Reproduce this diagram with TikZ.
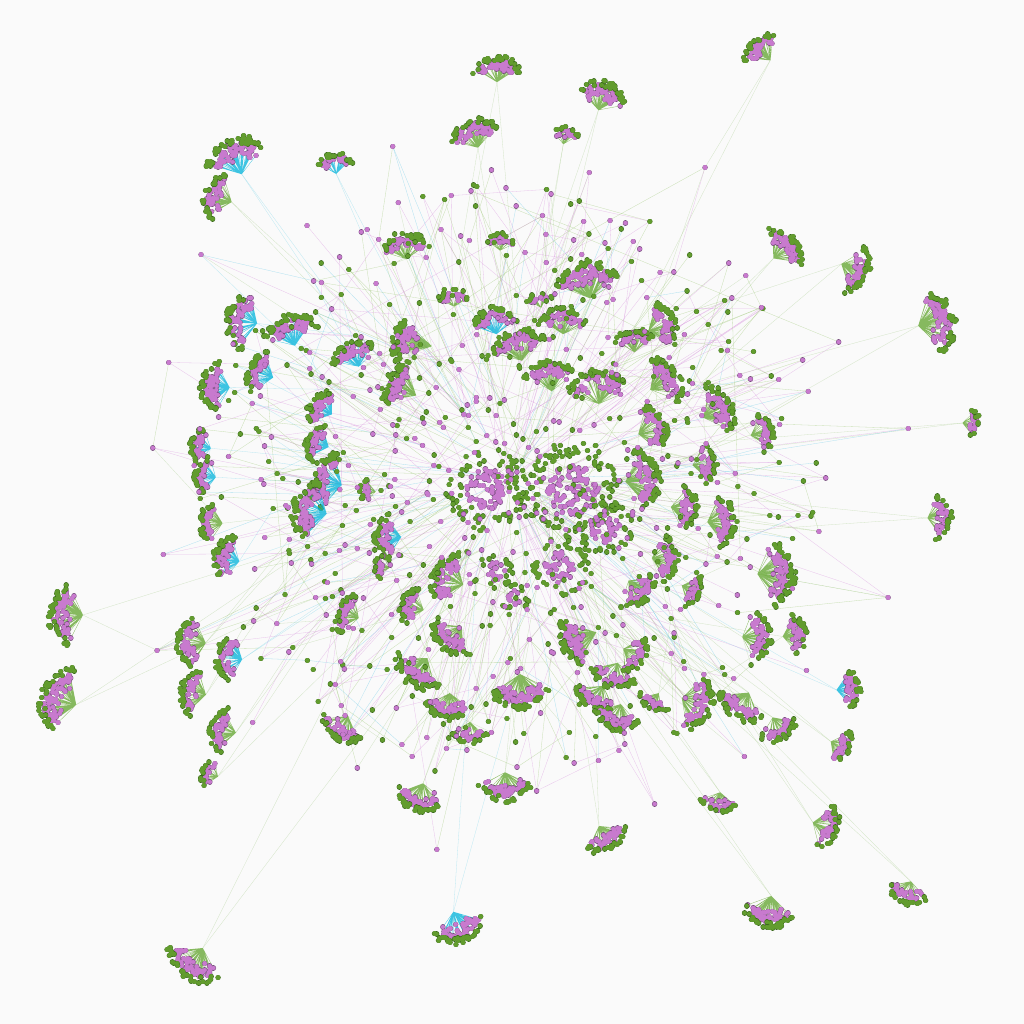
\documentclass[tikz,border=0pt]{standalone}
\definecolor{paper}{RGB}{250,250,250}
\definecolor{dotpink}{RGB}{200,122,206}
\definecolor{pinkrim}{RGB}{120,78,126}
\definecolor{dotgreen}{RGB}{98,156,46}
\definecolor{greenrim}{RGB}{58,106,26}
\definecolor{fang}{RGB}{96,164,44}
\definecolor{fanc}{RGB}{0,178,218}
\definecolor{linkpink}{RGB}{214,140,220}
\definecolor{linkgreen}{RGB}{150,196,108}
\definecolor{linkcyan}{RGB}{100,200,230}
\pgfdeclarelayer{bg}
\pgfsetlayers{bg,main}

% fan cluster: name, x, y, angle, size, spread, count, fan colour, seed
\newcommand\fancluster[9]{%
  \pgfmathsetmacro\hx{#2+0.8*#5*cos(#4+180)}
  \pgfmathsetmacro\hy{#3+0.8*#5*sin(#4+180)}
  \coordinate (#1) at (\hx,\hy);
  \pgfmathtruncatemacro\np{1.5*#7}
  \pgfmathsetseed{#9}
  \draw[fan,#8] foreach \k in {1,...,\np}
    {(#1) -- ([shift={({#4+(2*rnd-1)*#6}:{#5*(0.45+0.7*sqrt(rnd))})}]#1)};
  \pgfmathsetseed{#9}
  \draw[rimpink] foreach \k in {1,...,\np}
    {([shift={({#4+(2*rnd-1)*#6}:{#5*(0.45+0.7*sqrt(rnd))})}]#1) -- ++(0.01,0)};
  \pgfmathsetseed{#9}
  \draw[corepink] foreach \k in {1,...,\np}
    {([shift={({#4+(2*rnd-1)*#6}:{#5*(0.45+0.7*sqrt(rnd))})}]#1) -- ++(0.01,0)};
  \pgfmathtruncatemacro\ng{0.9*#7}
  \pgfmathtruncatemacro\gs{#9+5000}
  \pgfmathsetseed{\gs}
  \draw[rimgreen] foreach \k in {1,...,\ng}
    {([shift={({#4+(2*rnd-1)*(#6+8)}:{#5*(1.08+0.3*rnd)})}]#1) -- ++(0.01,0)};
  \pgfmathsetseed{\gs}
  \draw[coregreen] foreach \k in {1,...,\ng}
    {([shift={({#4+(2*rnd-1)*(#6+8)}:{#5*(1.08+0.3*rnd)})}]#1) -- ++(0.01,0)};
  \pgfmathsetmacro\hang{atan2(\hy-480,\hx-510)}
  \pgfmathtruncatemacro\base{mod(\hang+360,360)/360*650}
  \expandafter\xdef\csname hubcol#1\endcsname{#8}
  \expandafter\xdef\csname hubbase#1\endcsname{\base}
}

% round blob: name, x, y, size, count, seed
\newcommand\blob[6]{%
  \coordinate (#1) at (#2,#3);
  \pgfmathsetseed{#6}
  \draw[rimpink] foreach \k in {1,...,#5}
    {([shift={({360*rnd}:{#4*sqrt(rnd)})}]#1) -- ++(0.01,0)};
  \pgfmathsetseed{#6}
  \draw[corepink] foreach \k in {1,...,#5}
    {([shift={({360*rnd}:{#4*sqrt(rnd)})}]#1) -- ++(0.01,0)};
  \pgfmathtruncatemacro\gs{#6+5000}
  \pgfmathsetseed{\gs}
  \draw[rimgreen] foreach \k in {1,...,#5}
    {([shift={({360*rnd}:{#4*(1.2+0.7*rnd)})}]#1) -- ++(0.01,0)};
  \pgfmathsetseed{\gs}
  \draw[coregreen] foreach \k in {1,...,#5}
    {([shift={({360*rnd}:{#4*(1.2+0.7*rnd)})}]#1) -- ++(0.01,0)};
}

\begin{document}
\begin{tikzpicture}[x=1pt,y=-1pt,
  fan/.style={line width=0.3pt,opacity=0.75},
  rimpink/.style={draw=pinkrim,line width=5.4pt,line cap=round},
  corepink/.style={draw=dotpink,line width=4.6pt,line cap=round},
  rimgreen/.style={draw=greenrim,line width=5.4pt,line cap=round},
  coregreen/.style={draw=dotgreen,line width=4.6pt,line cap=round},
  link/.style={line width=0.3pt,opacity=0.5}]
\pgfmathsetseed{2718}

% loose nodes, swept round the middle
\foreach \i in {1,...,650}{
  \pgfmathsetmacro\sa{\i/650*360+4*rnd}
  \pgfmathsetmacro\sr{mod(\i,30)==0 ? 1+0.3*rnd : pow(rnd,0.7)}
  \coordinate (s\i) at ([shift={(510,480)}]\sa:{320*\sr} and {300*\sr});
}

% fan clusters
\foreach \nm/\px/\py/\pa/\ps/\pw/\pc/\pcol [count=\ci] in {
  c1/497/66/270/20/60/30/fang, c2/603/93/285/22/55/32/fang,
  c3/760/48/230/20/50/26/fang, c4/472/131/250/22/55/32/fang,
  c5/566/134/285/13/50/12/fang, c6/234/153/250/28/50/45/fanc,
  c7/335/161/265/16/55/20/fanc, c8/215/196/200/22/50/28/fang,
  c9/405/243/265/20/60/28/fang, c10/500/240/270/13/60/12/fang,
  c11/787/247/320/22/55/32/fang, c12/858/270/20/22/55/32/fang,
  c13/940/320/345/28/55/45/fang, c14/973/423/0/13/55/12/fang,
  c15/942/518/0/18/60/22/fang, c16/587/276/262/28/55/45/fang,
  c17/541/298/270/12/60/10/fang, c18/454/296/270/13/60/12/fang,
  c19/495/318/265/20/60/28/fanc, c20/563/318/270/20/60/28/fang,
  c21/665/325/340/22/55/30/fang, c22/632/338/260/18/55/22/fang,
  c23/517/342/255/24/55/34/fang, c24/550/372/265/24/55/34/fang,
  c25/597/383/265/26/55/40/fang, c26/667/380/330/24/50/34/fang,
  c27/655/428/340/22/50/30/fang, c28/720/408/330/24/50/34/fang,
  c29/765/433/350/18/55/22/fang, c30/707/464/355/18/55/22/fang,
  c31/687/507/0/20/55/26/fang, c32/646/478/350/26/60/45/fang,
  c33/725/522/0/22/60/32/fang, c34/780/574/0/28/55/45/fang,
  c35/668/558/0/20/55/28/fang, c36/694/590/20/16/55/18/fang,
  c37/640/592/45/20/55/28/fang, c38/445/578/200/24/55/36/fang,
  c39/385/537/180/20/55/26/fanc, c40/380/566/190/12/50/10/fang,
  c41/410/605/200/18/55/24/fang, c42/450/640/130/22/55/32/fang,
  c43/345/613/200/18/55/24/fang, c44/415/673/130/24/55/34/fang,
  c45/447/709/100/20/55/26/fang, c46/470/735/90/16/55/18/fang,
  c47/520/695/90/26/55/42/fang, c48/575/640/160/28/35/40/fang,
  c49/612/678/110/20/55/26/fang, c50/595/700/120/20/55/26/fang,
  c51/618/720/100/20/55/26/fang, c52/653/703/120/14/55/14/fang,
  c53/636/656/30/18/55/22/fang, c54/700/705/20/24/55/34/fang,
  c55/740/708/120/22/55/30/fang, c56/760/637/0/22/55/30/fang,
  c57/797/634/350/18/55/24/fang, c58/851/690/0/18/55/24/fanc,
  c59/780/730/60/18/55/22/fang, c60/842/748/30/16/55/18/fang,
  c61/718/805/100/16/55/18/fang, c62/828/828/20/20/55/26/fang,
  c63/906/895/110/18/55/22/fang, c64/768/915/100/24/55/36/fang,
  c65/607/840/60/20/55/26/fang, c66/505/790/90/22/60/34/fang,
  c67/417/800/110/22/55/32/fang, c68/460/930/70/24/55/36/fanc,
  c69/192/966/121/26/55/36/fang, c70/208/773/200/13/50/12/fang,
  c71/220/730/190/20/55/26/fang, c72/190/692/190/20/60/28/fang,
  c73/188/643/180/22/55/32/fang, c74/226/658/185/20/60/26/fanc,
  c75/62/615/180/26/55/40/fang, c76/55/697/200/28/60/44/fang,
  c77/340/730/120/20/55/28/fang, c78/238/320/190/24/65/36/fanc,
  c79/290/327/255/24/55/36/fanc, c80/352/352/245/20/55/28/fanc,
  c81/408/342/190/30/30/36/fang, c82/398/385/210/26/40/34/fang,
  c83/258/372/200/20/55/28/fanc, c84/212/386/185/22/55/32/fanc,
  c85/320/406/215/18/55/24/fanc, c86/315/442/200/18/55/24/fanc,
  c87/198/446/190/16/55/20/fanc, c88/203/475/190/16/55/20/fanc,
  c89/323/480/195/24/60/36/fanc, c90/306/510/190/26/60/40/fanc,
  c91/208/522/185/18/55/24/fang, c92/224/556/200/20/55/28/fanc,
  c93/366/490/190/12/55/12/fang}
{
  \pgfmathtruncatemacro\sd{37*\ci+11}
  \fancluster{\nm}{\px}{\py}{\pa}{\ps}{\pw}{\pc}{\pcol}{\sd}
}

% blobs in the middle
\foreach \nm/\px/\py/\ps/\pc [count=\ci] in {b1/488/490/22/75, b2/572/490/26/100,
  b3/604/527/16/40, b4/560/567/16/40, b5/495/572/10/18, b6/515/598/8/12}
{
  \pgfmathtruncatemacro\sd{53*\ci+9001}
  \blob{\nm}{\px}{\py}{\ps}{\pc}{\sd}
}

% paper and links, under everything
\pgfmathsetseed{4242}
\begin{pgfonlayer}{bg}
\fill[paper] (0,0) rectangle (1024,1024);
\foreach \ci in {1,...,93}{
  \edef\hc{\csname hubcolc\ci\endcsname}
  \edef\hb{\csname hubbasec\ci\endcsname}
  \foreach \e in {1,2}{
    \pgfmathtruncatemacro\j{mod(\hb+650+round(25*(2*rnd-1)),650)+1}
    \draw[link,\hc!50!paper] (c\ci) -- (s\j);
  }
}
\foreach \i in {1,...,650}{
  \pgfmathtruncatemacro\j{mod(\i+floor(1+30*rnd),650)+1}
  \pgfmathtruncatemacro\t{floor(8*rnd)}
  \ifcase\t \def\lc{linkpink}\or\def\lc{linkgreen}\or\def\lc{linkpink}\or\def\lc{linkgreen}\or
    \def\lc{linkpink}\or\def\lc{linkgreen}\or\def\lc{linkpink}\else\def\lc{linkcyan}\fi
  \draw[link,\lc] (s\i) -- (s\j);
}
\foreach \i in {1,...,90}{
  \pgfmathtruncatemacro\j{floor(1+650*rnd)}
  \pgfmathtruncatemacro\m{floor(1+650*rnd)}
  \pgfmathtruncatemacro\t{floor(2*rnd)}
  \ifcase\t \def\lc{linkpink}\else\def\lc{linkgreen}\fi
  \draw[link,\lc] (s\j) -- (s\m);
}
\end{pgfonlayer}

% loose nodes on top
\draw[rimgreen] foreach \i in {1,3,...,649} {(s\i) -- ++(0.01,0)};
\draw[coregreen] foreach \i in {1,3,...,649} {(s\i) -- ++(0.01,0)};
\draw[rimpink] foreach \i in {2,4,...,650} {(s\i) -- ++(0.01,0)};
\draw[corepink] foreach \i in {2,4,...,650} {(s\i) -- ++(0.01,0)};
\end{tikzpicture}
\end{document}
